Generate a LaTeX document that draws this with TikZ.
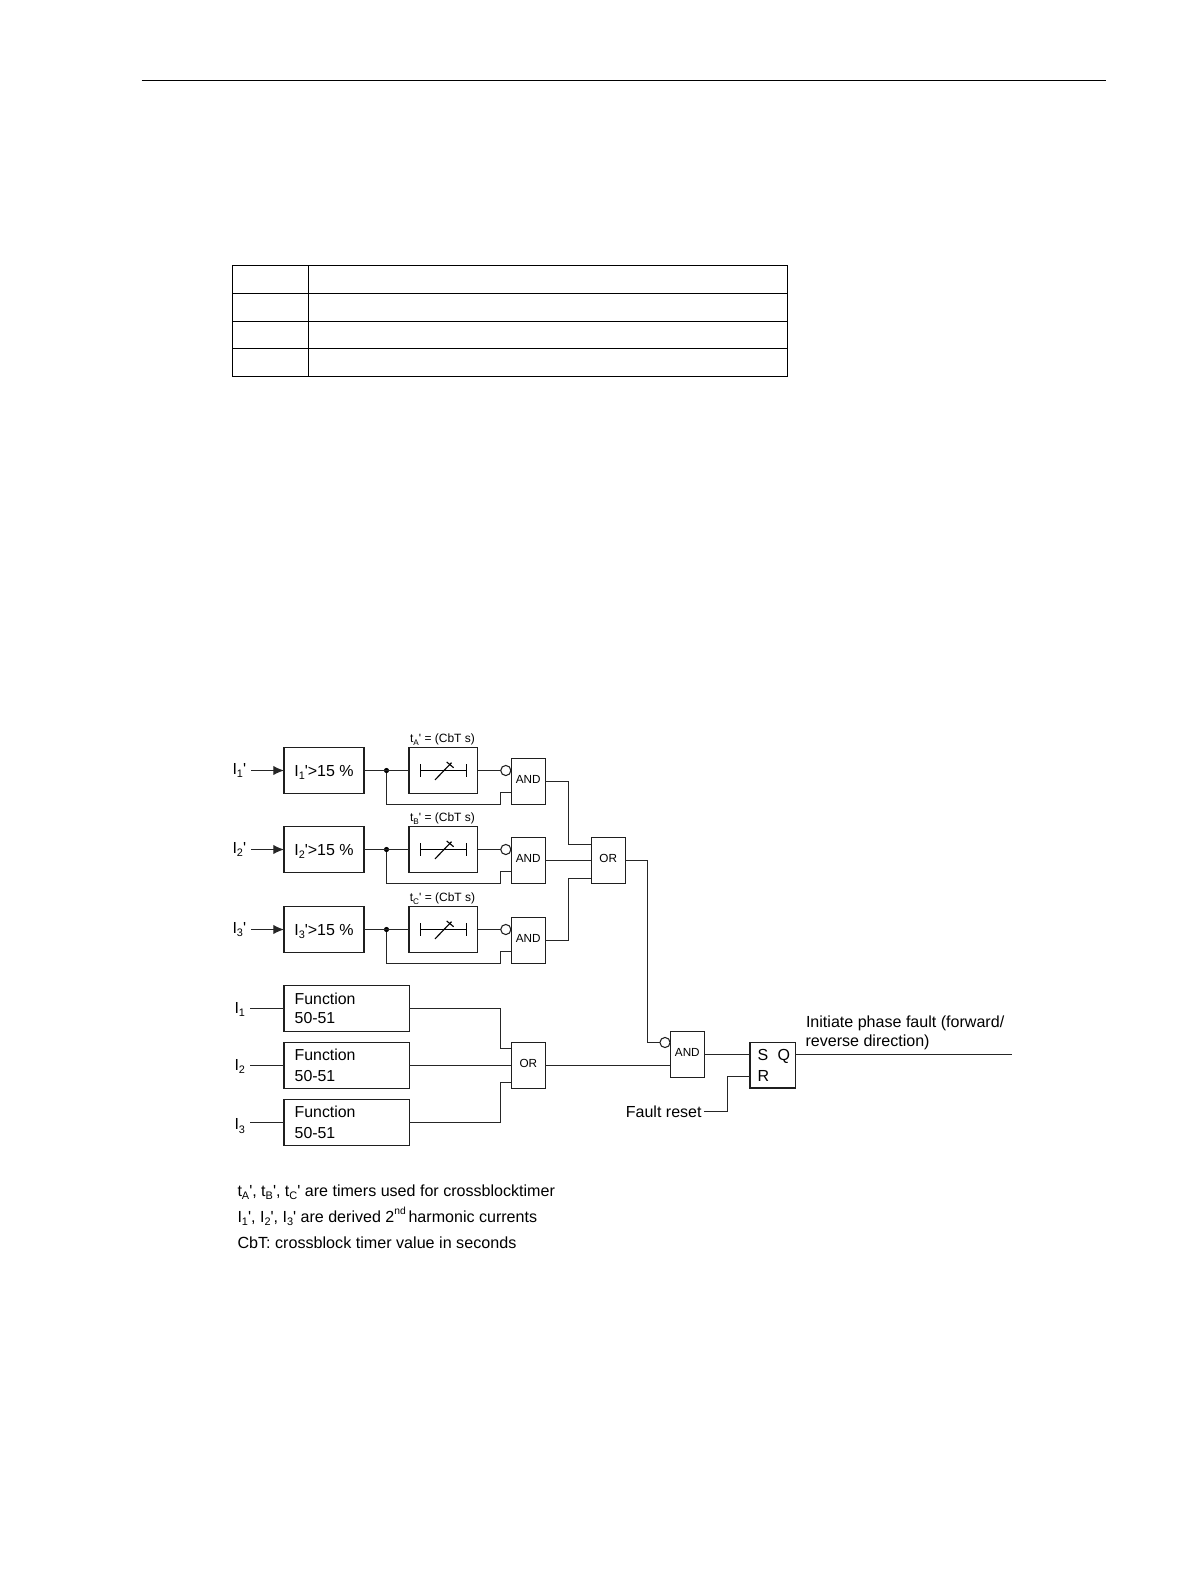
\documentclass[tikz,border=0pt]{standalone}
\usepackage{fontspec}
\setmainfont{Liberation Sans}
\usetikzlibrary{arrows.meta}
\newcommand{\prm}{\textquotesingle}
\newcommand{\sbs}[1]{\raisebox{-0.22em}{\scalebox{0.68}{#1}}}
\newcommand{\spx}[1]{\raisebox{0.45em}{\scalebox{0.64}{#1}}}
\newcommand{\lift}[1]{\raisebox{3.4pt}{#1}}
\tikzset{
  wire/.style={line width=0.85pt,color=black!85,line join=miter},
  blk/.style={draw=black!88,line width=0.85pt,fill=white,rectangle,inner sep=0pt,outer sep=0pt},
  ibox/.style={blk,minimum width=60pt,minimum height=33.9pt,font=\fontsize{12}{14}\selectfont},
  tbox/.style={blk,minimum width=51.5pt,minimum height=33.9pt},
  gate/.style={blk,minimum width=25.5pt,minimum height=34.1pt,font=\fontsize{8.8}{10}\selectfont},
  fbox/.style={blk,minimum width=94pt,minimum height=34.3pt,font=\fontsize{11.9}{14.6}\selectfont,align=left,text width=78pt},
  srbox/.style={blk,minimum width=34pt,minimum height=34pt},
  neg/.style={circle,draw=black!88,line width=0.8pt,fill=white,minimum size=7.6pt,inner sep=0pt,outer sep=0pt},
  jdot/.style={circle,fill=black,minimum size=3.9pt,inner sep=0pt,outer sep=0pt},
  lbl/.style={inner sep=0pt,outer sep=0pt,anchor=west,font=\fontsize{12}{14}\selectfont},
  tlbl/.style={inner sep=0pt,outer sep=0pt,anchor=center,font=\fontsize{9}{10}\selectfont},
  leg/.style={inner sep=0pt,outer sep=0pt,anchor=base west,font=\fontsize{12.05}{14}\selectfont},
  tabline/.style={line width=0.95pt,color=black},
}
\begin{document}
\begin{tikzpicture}[x=0.75pt,y=-0.75pt]
\useasboundingbox (0,0) rectangle (1191,1587);
\fill[white] (0,0) rectangle (1191,1587);
% page rule and empty table
\draw[line width=0.85pt] (141.5,80.3) -- (1106,80.3);
\draw[tabline] (232.3,265.4) rectangle (787.6,376.4);
\draw[tabline] (308.6,265.4) -- (308.6,376.4);
\draw[tabline] (232.3,293.4) -- (787.6,293.4);
\draw[tabline] (232.3,321.3) -- (787.6,321.3);
\draw[tabline] (232.3,348.4) -- (787.6,348.4);
% upper three channels
\foreach \i/\cy/\gy/\tl in {1/770.5/781.5/A,2/849.5/860.5/B,3/929.5/940.5/C}{
  \node[lbl] (in\i) at (232.5,\cy) {I\sbs{\i}\prm};
  \node[ibox] (ib\i) at (324,\cy) {\smash{\raisebox{-4.4pt}{I\sbs{\i}\prm>15 \%}}};
  \node[tbox] (tb\i) at (443.3,\cy) {};
  \node[tlbl] (tl\i) at (442.5,\cy-31) {t\sbs{\tl}\prm\ = (CbT s)};
  \node[gate] (ag\i) at (528.3,\gy) {\lift{AND}};
  \node[neg] (ng\i) at (505.8,\cy) {};
  \node[jdot] (jd\i) at (386.5,\cy) {};
  \coordinate (fbA\i) at (386.5,\cy+34);
  \coordinate (fbB\i) at (500.5,\cy+34);
  \coordinate (fbC\i) at (500.5,\cy+22);
  \coordinate (fbD\i) at (ag\i.west |- fbC\i);
  \draw[wire,-{Latex[length=8pt,width=7pt]}] (251,\cy) -- (ib\i.west);
  \draw[wire] (ib\i.east) -- (tb\i.west);
  \draw[wire] (tb\i.east) -- (ng\i.west);
  \draw[wire] (jd\i) -- (fbA\i) -- (fbB\i) -- (fbC\i) -- (fbD\i);
  % timer symbol
  \coordinate (ta\i) at (420.5,\cy);
  \coordinate (tb\i e) at (466.5,\cy);
  \draw[wire,color=black] (ta\i) -- (tb\i e);
  \draw[wire,color=black] (420.5,\cy-6.2) -- (420.5,\cy+6.2);
  \draw[wire,color=black] (466.5,\cy-6.2) -- (466.5,\cy+6.2);
  \draw[wire,color=black] (435,\cy+9.4) -- (451.5,\cy-7.8);
  \draw[wire,color=black] (446.7,\cy-8.5) -- (453.6,\cy-2.8);
}
% first OR
\node[gate] (or1) at (608.2,860.5) {\lift{OR}};
\coordinate (a1) at (568.5,781.5);
\coordinate (a2) at (568.5,844.5);
\coordinate (a3) at (or1.west |- a2);
\coordinate (c1) at (568.5,940.5);
\coordinate (c2) at (568.5,878.5);
\coordinate (c3) at (or1.west |- c2);
\draw[wire] (ag1.east) -- (a1) -- (a2) -- (a3);
\draw[wire] (ag2.east) -- (or1.west);
\draw[wire] (ag3.east) -- (c1) -- (c2) -- (c3);
% function blocks
\foreach \i/\cy/\ty/\gp/\dr in {1/1008.5/1/0pt/0pt,2/1065.5/1/1.6pt/0.7pt,3/1122.5/3.5/1.6pt/0.7pt}{
  \node[lbl] (cur\i) at (234.5,\cy+\ty) {I\sbs{\i}};
  \coordinate (st\i) at (250,\cy);
  \node[fbox] (fn\i) at (346.7,\cy) {\raisebox{-\dr}{Function}\\[\gp]\raisebox{-\dr}{50-51}};
  \draw[wire] (st\i) -- (fn\i.west);
}
\node[gate] (or2) at (528.3,1065.5) {\lift{OR}};
\coordinate (d1) at (500.5,1008.5);
\coordinate (d2) at (500.5,1048.5);
\coordinate (d3) at (or2.west |- d2);
\coordinate (e1) at (500.5,1122.5);
\coordinate (e2) at (500.5,1082.5);
\coordinate (e3) at (or2.west |- e2);
\draw[wire] (fn1.east) -- (d1) -- (d2) -- (d3);
\draw[wire] (fn2.east) -- (or2.west);
\draw[wire] (fn3.east) -- (e1) -- (e2) -- (e3);
% final AND and flip-flop
\node[gate] (ag4) at (687.3,1054.5) {\lift{AND}};
\node[neg] (ng4) at (665,1042.5) {};
\coordinate (g1) at (647.5,860.5);
\coordinate (g2) at (647.5,1042.5);
\draw[wire] (or1.east) -- (g1) -- (g2) -- (ng4.west);
\coordinate (h1) at (ag4.west |- or2.east);
\draw[wire] (or2.east) -- (h1);
\node[srbox] (sr) at (772.7,1065.3) {};
\node[lbl,anchor=base west] (sl) at (757.7,1060.7) {S};
\node[lbl,anchor=base west] (ql) at (777.5,1060.7) {Q};
\node[lbl,anchor=base west] (rl) at (757.7,1081.7) {R};
\coordinate (s1) at (sr.west |- ag4.east);
\draw[wire] (ag4.east) -- (s1);
\coordinate (q1) at (sr.east |- s1);
\coordinate (q2) at (1011.7,1054.5);
\draw[wire] (q1) -- (q2);
\node[lbl,anchor=base east] (fr) at (701.5,1117) {Fault reset};
\coordinate (r0) at (704.3,1111.5);
\coordinate (r1) at (727.5,1111.5);
\coordinate (r2) at (727.5,1076.5);
\coordinate (r3) at (sr.west |- r2);
\draw[wire] (r0) -- (r1) -- (r2) -- (r3);
\node[lbl,anchor=base west,font=\fontsize{12.05}{14}\selectfont] (ip1) at (806,1027) {Initiate phase fault (forward/};
\node[lbl,anchor=base west,font=\fontsize{12.05}{14}\selectfont] (ip2) at (805.5,1046) {reverse direction)};
% legend
\node[leg] (l1) at (237.5,1196) {t\sbs{A}\prm, t\sbs{B}\prm, t\sbs{C}\prm\ are timers used for crossblocktimer};
\node[leg] (l2) at (237.5,1222) {I\sbs{1}\prm, I\sbs{2}\prm, I\sbs{3}\prm\ are derived 2\spx{nd}\,harmonic currents};
\node[leg,font=\fontsize{12.1}{14}\selectfont] (l3) at (237.5,1248) {CbT: crossblock timer value in seconds};
\end{tikzpicture}
\end{document}
